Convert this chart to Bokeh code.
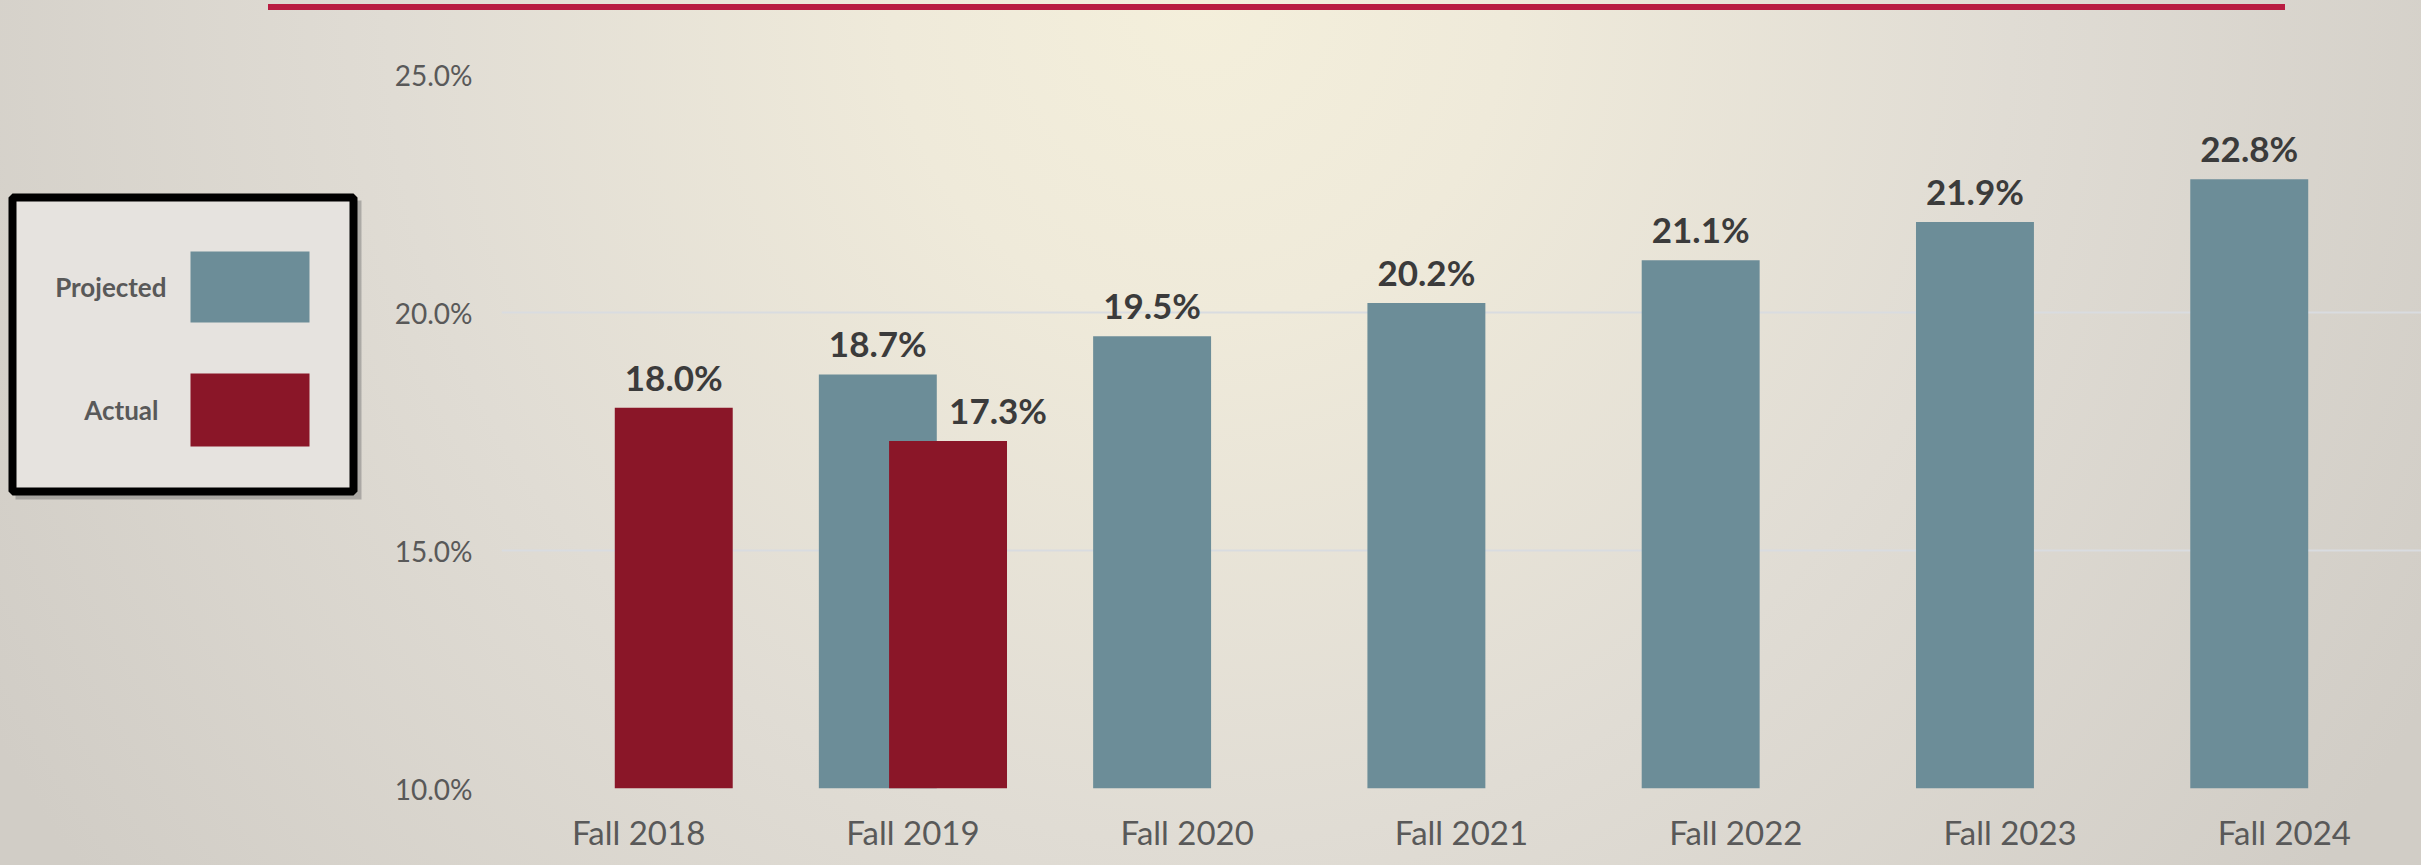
from bokeh.plotting import figure
from bokeh.models import (ColumnDataSource, FactorRange, Range1d, FixedTicker,
                          PrintfTickFormatter, Div)
from bokeh.layouts import row, column
from bokeh.transform import dodge
from bokeh.core.properties import value
from bokeh.embed import file_html
from bokeh.resources import INLINE

# ---------------- data ----------------
years = ["Fall 2018", "Fall 2019", "Fall 2020", "Fall 2021", "Fall 2022", "Fall 2023", "Fall 2024"]
projected = [None, 18.7, 19.5, 20.2, 21.1, 21.9, 22.8]
actual = [18.0, 17.3, None, None, None, None, None]
y_ticks = [10, 15, 20, 25]
series_names = ["Projected", "Actual"]

# ---------------- style ----------------
PROJ_COLOR = "#6C8D98"
ACT_COLOR = "#8A1628"
LINE_RED = "#B91C41"
LABEL_COLOR = "#3B3B3B"
TICK_COLOR = "#595959"
FONT = "Lato"
BG = ("radial-gradient(ellipse 1400px 1450px at 1200px 0px, "
      "#F4EFDB 0%, #EFEADA 22%, #E0DCD4 58%, #D1CDC6 100%)")

TOTAL_W, TOTAL_H = 2421, 865
LINE_TOP, LINE_H = 4, 6
ROW_TOP = LINE_TOP + LINE_H
ROW_H = TOTAL_H - ROW_TOP
LEG_W = 368
MAIN_W = TOTAL_W - LEG_W
FRAME_TOP, FRAME_BOTTOM = 74, 788          # page pixels
BORDER_TOP = FRAME_TOP - ROW_TOP
BORDER_BOTTOM = TOTAL_H - FRAME_BOTTOM

BAR_W = 0.43
DODGE = 0.128

# ---------------- sources ----------------
def build(vals, shift, other):
    xs, tops, labels, dx = [], [], [], []
    for yr, v, o in zip(years, vals, other):
        if v is None:
            continue
        xs.append(yr)
        tops.append(v)
        labels.append(f"{v:.1f}%")
        # push the label of the right bar aside when the pair overlaps
        dx.append(50 if (shift > 0 and o is not None) else 0)
    return ColumnDataSource(dict(x=xs, top=tops, label=labels, dx=dx))

src_proj = build(projected, -DODGE, actual)
src_act = build(actual, DODGE, projected)

# ---------------- main chart ----------------
p = figure(x_range=FactorRange(*years, range_padding=0), y_range=Range1d(10, 25),
           width=MAIN_W, height=ROW_H, output_backend="svg", toolbar_location=None,
           min_border_left=133, min_border_right=0,
           min_border_top=BORDER_TOP, min_border_bottom=BORDER_BOTTOM)
p.background_fill_alpha = 0
p.border_fill_alpha = 0
p.outline_line_color = None

p.vbar(x=dodge("x", -DODGE, range=p.x_range), top="top", bottom=10, width=BAR_W,
       source=src_proj, fill_color=PROJ_COLOR, line_color=None)
p.vbar(x=dodge("x", DODGE, range=p.x_range), top="top", bottom=10, width=BAR_W,
       source=src_act, fill_color=ACT_COLOR, line_color=None)

for src, off in ((src_proj, -DODGE), (src_act, DODGE)):
    p.text(x=dodge("x", off, range=p.x_range), y="top", text="label", source=src,
           x_offset="dx", y_offset=-31, text_align="center", text_baseline="alphabetic",
           text_font=value(FONT), text_font_style="bold", text_font_size="35px",
           text_color=LABEL_COLOR)

p.xgrid.grid_line_color = None
p.ygrid.grid_line_color = "#D9DCE0"
p.ygrid.grid_line_width = 2
p.yaxis.ticker = FixedTicker(ticks=y_ticks)
p.yaxis.formatter = PrintfTickFormatter(format="%.1f%%")
for ax in (p.xaxis, p.yaxis):
    ax.axis_line_color = None
    ax.major_tick_line_color = None
    ax.minor_tick_line_color = None
    ax.major_tick_out = 0
    ax.major_tick_in = 0
    ax.major_label_text_font = FONT
    ax.major_label_text_color = TICK_COLOR
p.yaxis.major_label_text_font_size = "28px"
p.yaxis.major_label_standoff = 29
p.xaxis.major_label_text_font_size = "33px"
p.xaxis.major_label_standoff = 23

# ---------------- legend panel (data units = page pixels) ----------------
lg = figure(x_range=Range1d(0, LEG_W), y_range=Range1d(FRAME_BOTTOM, FRAME_TOP),
            width=LEG_W, height=ROW_H, output_backend="svg", toolbar_location=None,
            min_border_left=0, min_border_right=0,
            min_border_top=BORDER_TOP, min_border_bottom=BORDER_BOTTOM)
lg.background_fill_alpha = 0
lg.border_fill_alpha = 0
lg.outline_line_color = None
lg.axis.visible = False
lg.grid.visible = False

lg.quad(left=[15], right=[361], top=[200], bottom=[499], fill_color="#6E6E6E",
        fill_alpha=0.45, line_color=None)
lg.quad(left=[12], right=[353], top=[197], bottom=[491], fill_color="#E6E3DF",
        line_color="black", line_width=8)
lg.quad(left=[190, 190], right=[309, 309], top=[251, 373], bottom=[322, 446],
        fill_color=[PROJ_COLOR, ACT_COLOR], line_color=None)
lg.text(x=[166, 158], y=[286, 409], text=series_names, text_align="right",
        text_baseline="middle", text_font=value(FONT), text_font_style="bold",
        text_font_size="26px", text_color="#595959")

top_line = Div(text="", width=2017, height=LINE_H, margin=(LINE_TOP, 0, 0, 268),
               styles={"background-color": LINE_RED})

layout = column(top_line, row(lg, p, spacing=0), spacing=0,
                styles={"background": BG})

html = file_html(layout, INLINE)
html = html.replace("<body>", '<body style="background:#D8D4CD">', 1)
open("out.html", "w").write(html)
